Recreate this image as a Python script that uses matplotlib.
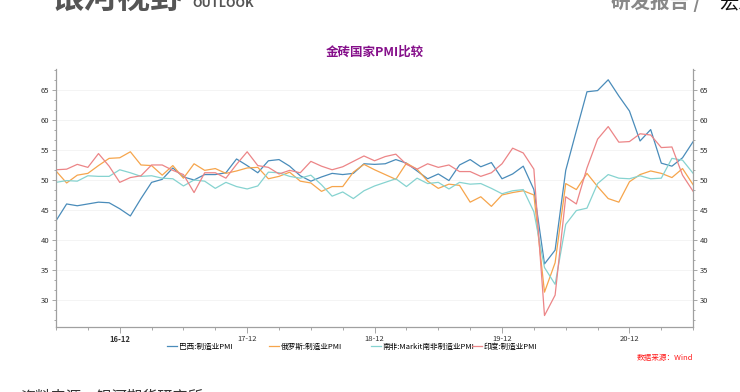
import matplotlib

matplotlib.use("Agg")

import matplotlib.pyplot as plt
import numpy as np
import pandas as pd
from matplotlib.ticker import FixedLocator, MultipleLocator

plt.rcParams["font.family"] = ["Noto Sans CJK SC", "DejaVu Sans"]

# monthly PMI, 2016-06 .. 2021-06
months = pd.period_range("2016-06", "2021-06", freq="M")

brazil = [43.2, 46.0, 45.7, 46.0, 46.3, 46.2, 45.2,
          44.0, 46.9, 49.6, 50.1, 52.0, 50.5, 50.0, 50.9, 50.9, 51.2, 53.5, 52.4,
          51.2, 53.2, 53.4, 52.3, 50.7, 49.8, 50.5, 51.1, 50.9, 51.1, 52.7, 52.6,
          52.7, 53.4, 52.8, 51.5, 50.2, 51.0, 49.9, 52.5, 53.4, 52.2, 52.9, 50.2,
          51.0, 52.3, 48.4, 36.0, 38.3, 51.6, 58.2, 64.7, 64.9, 66.7, 64.0, 61.5,
          56.5, 58.4, 52.8, 52.3, 53.7, 56.4]
russia = [51.5, 49.5, 50.8, 51.1, 52.4, 53.6, 53.7,
          54.7, 52.5, 52.4, 50.8, 52.4, 50.3, 52.7, 51.6, 51.9, 51.1, 51.5, 52.0,
          52.1, 50.2, 50.6, 51.3, 49.8, 49.5, 48.1, 48.9, 48.9, 51.3, 52.6, 51.7,
          50.9, 50.1, 52.8, 51.8, 49.8, 48.6, 49.3, 49.1, 46.3, 47.2, 45.6, 47.5,
          47.9, 48.2, 47.5, 31.3, 36.2, 49.4, 48.4, 51.1, 48.9, 46.9, 46.3, 49.7,
          50.9, 51.5, 51.1, 50.4, 51.9, 49.2]
south_africa = [49.6, 49.9, 49.8, 50.7, 50.6, 50.6, 51.7,
                51.2, 50.6, 50.7, 50.3, 50.2, 49.0, 50.0, 49.8, 48.6, 49.6, 48.9, 48.5,
                49.0, 51.3, 51.2, 50.6, 50.3, 50.8, 49.2, 47.3, 48.0, 46.9, 48.2, 49.0,
                49.6, 50.2, 48.9, 50.3, 49.4, 49.6, 48.5, 49.6, 49.3, 49.4, 48.6, 47.7,
                48.2, 48.4, 44.7, 35.4, 32.6, 42.6, 44.9, 45.3, 49.4, 50.9, 50.3, 50.2,
                50.7, 50.2, 50.3, 53.6, 53.3, 51.1]
india = [51.7, 51.8, 52.6, 52.1, 54.4, 52.3, 49.6,
         50.4, 50.7, 52.5, 52.5, 51.6, 50.9, 47.9, 51.2, 51.2, 50.3, 52.6, 54.7,
         52.4, 52.1, 51.0, 51.6, 51.2, 53.1, 52.3, 51.7, 52.2, 53.1, 54.0, 53.2,
         53.9, 54.3, 52.6, 51.8, 52.7, 52.1, 52.5, 51.4, 51.4, 50.6, 51.2, 52.7,
         55.3, 54.5, 51.8, 27.4, 30.8, 47.2, 46.0, 52.0, 56.8, 58.9, 56.3, 56.4,
         57.7, 57.5, 55.4, 55.5, 50.8, 48.1]

labels = ["巴西:制造业PMI", "俄罗斯:制造业PMI", "南非:Markit南非制造业PMI", "印度:制造业PMI"]
colors = ["#4a8cba", "#f6a54c", "#86d3d0", "#ec8587"]
yticks = [30, 35, 40, 45, 50, 55, 60, 65]

fig = plt.figure(figsize=(7.4, 3.92), dpi=100)
ax = fig.add_axes([0.0757, 0.166, 0.861, 0.658])

x = np.arange(len(months))
lines = []
for series, label, color in zip([brazil, russia, south_africa, india], labels, colors):
    (ln,) = ax.plot(x, series, color=color, linewidth=0.9, label=label)
    lines.append(ln)

ax.set_xlim(0, len(months) - 1)
ax.set_ylim(25.5, 68.5)

dec_pos = [i for i, m in enumerate(months) if m.month == 12]
ax.xaxis.set_major_locator(FixedLocator(dec_pos))
ax.set_xticklabels([months[i].strftime("%y-%m") for i in dec_pos], fontsize=5.5, color="#333333")
ax.get_xticklabels()[0].set_fontweight("bold")
ax.xaxis.set_minor_locator(MultipleLocator(3))

ax.set_yticks(yticks)
ax.set_yticklabels([str(v) for v in yticks], fontsize=5.5, color="#333333")
ax.yaxis.set_minor_locator(MultipleLocator(5 / 3))
ax.tick_params(axis="y", which="both", right=True, labelright=True, direction="out",
               color="#999999", width=0.6)
ax.tick_params(axis="y", which="major", length=3, pad=2)
ax.tick_params(axis="y", which="minor", length=1.5)
ax.tick_params(axis="x", which="major", length=4, color="#999999", width=0.6, pad=2)
ax.tick_params(axis="x", which="minor", length=2.5, color="#999999", width=0.6)

ax.grid(axis="y", color="#f3f3f3", linewidth=0.6)
ax.set_axisbelow(True)
ax.spines["top"].set_visible(False)
for side in ["left", "right", "bottom"]:
    ax.spines[side].set_color("#a0a0a0")
    ax.spines[side].set_linewidth(0.9)

fig.text(0.507, 0.867, "金砖国家PMI比较", ha="center", va="center", fontsize=9,
         fontweight="bold", color="#850f8a")

# legend in fixed-width slots
for k, ln in enumerate(lines):
    fig.legend(handles=[ln], loc="center left", bbox_to_anchor=(0.226 + k * 0.1375, 0.115),
               frameon=False, fontsize=5.5, handlelength=1.3, handletextpad=0.2,
               borderpad=0, borderaxespad=0)

fig.text(0.9365, 0.087, "数据来源：Wind", ha="right", va="center", fontsize=5.5,
         color="#ff1a1a", style="italic")

# page fragments around the chart
fig.text(0.068, 1 - 8 / 392, "银河视野", ha="left", va="baseline", fontsize=24,
         fontweight="bold", color="#555555")
fig.text(0.26, 1 - 7 / 392, "OUTLOOK", ha="left", va="baseline", fontsize=9,
         fontweight="bold", color="#555555")
fig.text(0.826, 1 - 8 / 392, "研发报告 / ", ha="left", va="baseline", fontsize=14,
         fontweight="bold", color="#888888")
fig.text(0.972, 1 - 8 / 392, "宏观", ha="left", va="baseline", fontsize=14, color="#111111")
fig.text(0.027, 1 - 388 / 392, "资料来源：银河期货研究所", ha="left", va="top", fontsize=11,
         color="#333333")

fig.savefig("out.png", dpi=100)
plt.close(fig)
